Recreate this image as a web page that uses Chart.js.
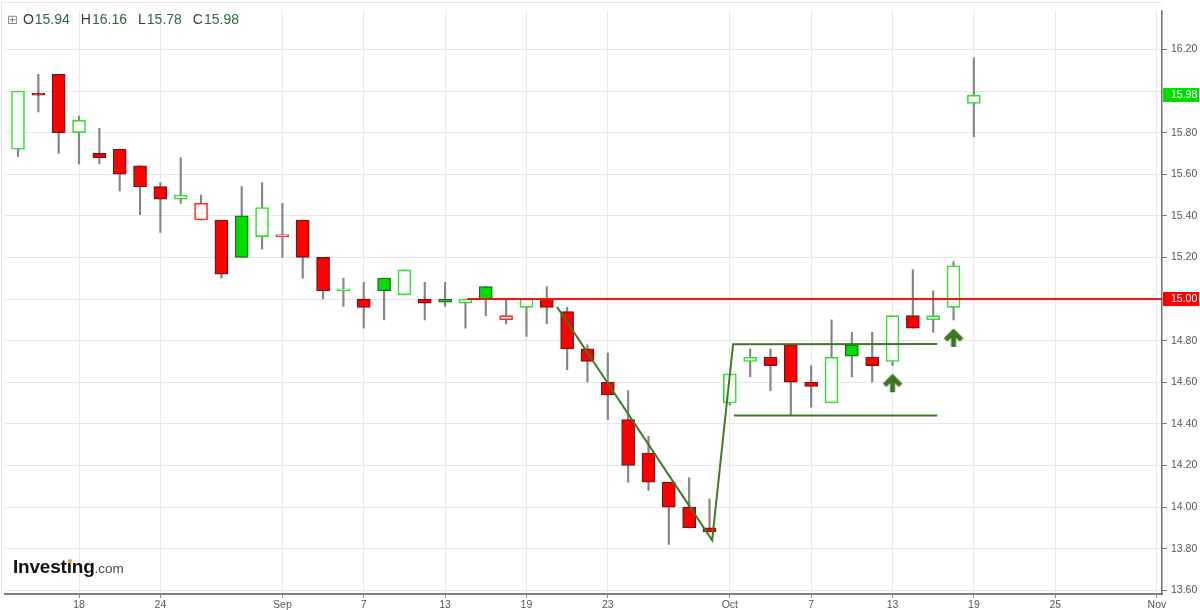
<!DOCTYPE html>
<html>
<head>
<meta charset="utf-8">
<script src="https://cdn.jsdelivr.net/npm/chart.js@4.4.1/dist/chart.umd.min.js"></script>
<style>
  html, body { margin: 0; padding: 0; background: #fff; }
  #wrap { position: relative; width: 1200px; height: 610px; overflow: hidden; }
  #chart { position: absolute; left: 0; top: 0; }
  #edge-left { position: absolute; left: 1px; top: 2px; width: 1px; height: 592px; background: #e2e2e2; }
  #edge-top { position: absolute; left: 1px; top: 2px; width: 1161px; height: 1px; background: #e8e8e8; }
  #ohlc { position: absolute; left: 7px; top: 11px; font-family: "Liberation Sans", Arial, sans-serif; font-size: 14px; color: #3a3a3a; white-space: pre; }
  #ohlc .v { color: #2a6a42; margin-right: 11px; margin-left: 1px; }
  #ohlc .icon { color: #888; font-family: "DejaVu Sans", sans-serif; font-size: 13px; margin-right: 5px; }
  #logo { position: absolute; left: 13px; top: 556px; font-family: "Liberation Sans", Arial, sans-serif; white-space: nowrap; }
  #logo .b { font-weight: bold; font-size: 19px; color: #111; letter-spacing: -0.2px; }
  #logo .c { font-size: 13.5px; color: #444; }
  #logo-dot { position: absolute; left: 68px; top: 559px; width: 4px; height: 4px; border-radius: 50%; background: #f2a11f; }
</style>
</head>
<body>
<div id="wrap">
  <canvas id="chart" width="1200" height="610"></canvas>
  <div id="edge-left"></div>
  <div id="edge-top"></div>
  <div id="ohlc"></div>
  <div id="logo"><span class="b">Investing</span><span class="c">.com</span></div>
  <div id="logo-dot"></div>
</div>
<script>
// trading days on the axis (candles stop on Oct 19, axis runs to Nov 1)
const dates = [
  "2016-08-15", "2016-08-16", "2016-08-17", "2016-08-18", "2016-08-19",
  "2016-08-22", "2016-08-23", "2016-08-24", "2016-08-25", "2016-08-26",
  "2016-08-29", "2016-08-30", "2016-08-31", "2016-09-01", "2016-09-02",
  "2016-09-05", "2016-09-06", "2016-09-07", "2016-09-08", "2016-09-09",
  "2016-09-12", "2016-09-13", "2016-09-14", "2016-09-15", "2016-09-16",
  "2016-09-19", "2016-09-20", "2016-09-21", "2016-09-22", "2016-09-23",
  "2016-09-26", "2016-09-27", "2016-09-28", "2016-09-29", "2016-09-30",
  "2016-10-03", "2016-10-04", "2016-10-05", "2016-10-06", "2016-10-07",
  "2016-10-10", "2016-10-11", "2016-10-12", "2016-10-13", "2016-10-14",
  "2016-10-17", "2016-10-18", "2016-10-19", "2016-10-20", "2016-10-21",
  "2016-10-24", "2016-10-25", "2016-10-26", "2016-10-27", "2016-10-28",
  "2016-10-31", "2016-11-01",
];

const opens = [
  15.72, 15.985, 16.08, 15.80, 15.70, 15.72, 15.64, 15.54, 15.48, 15.38,
  15.38, 15.40, 15.30, 15.30, 15.38, 15.20, 15.04, 15.00, 15.10, 15.02,
  15.00, 15.00, 14.98, 15.06, 14.90, 14.96, 15.00, 14.94, 14.76, 14.60,
  14.42, 14.26, 14.12, 14.00, 13.90, 14.50, 14.70, 14.72, 14.78, 14.60,
  14.50, 14.78, 14.72, 14.70, 14.92, 14.90, 14.96, 15.94,
];
const highs = [
  16.00, 16.08, 16.08, 15.88, 15.82, 15.72, 15.64, 15.56, 15.68, 15.50,
  15.38, 15.54, 15.56, 15.46, 15.38, 15.20, 15.10, 15.08, 15.10, 15.14,
  15.08, 15.08, 15.00, 15.06, 15.00, 15.00, 15.06, 14.96, 14.78, 14.74,
  14.56, 14.34, 14.12, 14.14, 14.04, 14.64, 14.76, 14.76, 14.78, 14.68,
  14.90, 14.84, 14.84, 14.92, 15.14, 15.04, 15.18, 16.16,
];
const lows = [
  15.685, 15.90, 15.70, 15.65, 15.65, 15.52, 15.405, 15.32, 15.46, 15.38,
  15.10, 15.20, 15.24, 15.20, 15.10, 15.00, 14.965, 14.86, 14.90, 15.02,
  14.90, 14.965, 14.86, 14.92, 14.88, 14.82, 14.88, 14.66, 14.60, 14.42,
  14.12, 14.08, 13.82, 13.90, 13.88, 14.49, 14.625, 14.56, 14.44, 14.48,
  14.50, 14.625, 14.60, 14.68, 14.86, 14.84, 14.90, 15.78,
];
const closes = [
  16.00, 15.98, 15.80, 15.86, 15.68, 15.60, 15.54, 15.48, 15.50, 15.46,
  15.12, 15.20, 15.44, 15.30, 15.20, 15.04, 15.04, 14.96, 15.04, 15.14,
  14.98, 14.985, 15.00, 15.00, 14.92, 15.00, 14.96, 14.76, 14.70, 14.54,
  14.20, 14.12, 14.00, 13.90, 13.88, 14.64, 14.72, 14.68, 14.60, 14.58,
  14.72, 14.725, 14.68, 14.92, 14.86, 14.92, 15.16, 15.98,
];

const tickDates = [
  "2016-08-18", "2016-08-24", "2016-09-01", "2016-09-07", "2016-09-13",
  "2016-09-19", "2016-09-23", "2016-10-03", "2016-10-07", "2016-10-13",
  "2016-10-19", "2016-10-25", "2016-11-01",
];
const tickText = ["18", "24", "Sep", "7", "13", "19", "23", "Oct", "7", "13", "19", "25", "Nov"];

// drawn annotations, in (day index, price)
const resistLevel = 15.0;
const resistFrom = 22.1;
const trendX = [26.5, 34.13, 35.16, 45.2];
const trendY = [14.963, 13.84, 14.783, 14.784];
const supportX = [35.2, 45.2];
const supportY = [14.44, 14.44];
const arrowX = [43, 46];
const arrowY = [14.595, 14.813];

const yMin = 13.582;
const yMax = 16.388;
const xMin = -0.64;
const xMax = 56.25;

const UP = "#2ee02e";
const UP_FILL = "#00dd00";
const DOWN = "#ff2a2a";
const DOWN_FILL = "#ff0000";

// header
const last = closes.length - 1;
document.getElementById("ohlc").innerHTML =
  `<span class="icon">⊞</span>O<span class="v">${opens[last].toFixed(2)}</span>` +
  `H<span class="v">${highs[last].toFixed(2)}</span>` +
  `L<span class="v">${lows[last].toFixed(2)}</span>` +
  `C<span class="v">${closes[last].toFixed(2)}</span>`;

// hollow when close >= open, green when close >= previous close
const bodyFill = [];
const bodyBorder = [];
const bodyBorderWidth = [];
closes.forEach((c, i) => {
  const up = i === 0 ? c >= opens[i] : c >= closes[i - 1];
  const hollow = c >= opens[i];
  if (hollow) {
    bodyFill.push("#ffffff");
    bodyBorder.push(up ? UP : DOWN);
    bodyBorderWidth.push(1.6);
  } else {
    bodyFill.push(up ? UP_FILL : DOWN_FILL);
    bodyBorder.push(up ? "#1f5e1f" : "#6e1212");
    bodyBorderWidth.push(1.2);
  }
});

const bodies = closes.map((c, i) => ({ x: i, y: [opens[i], c] }));
const wicks = closes.map((c, i) => ({ x: i, y: [lows[i], highs[i]] }));

function makeArrow() {
  const c = document.createElement("canvas");
  c.width = 20;
  c.height = 20;
  const g = c.getContext("2d");
  g.strokeStyle = "#3a7621";
  g.lineWidth = 5;
  g.lineJoin = "miter";
  g.beginPath();
  g.moveTo(2, 12);
  g.lineTo(10, 4);
  g.lineTo(18, 12);
  g.stroke();
  g.beginPath();
  g.moveTo(10, 6);
  g.lineTo(10, 19);
  g.stroke();
  return c;
}

const badges = [
  { value: closes[last], color: "#00dd00" },
  { value: resistLevel, color: "#ff0000" },
];

const badgePlugin = {
  id: "badges",
  afterDraw(chart) {
    const { ctx, chartArea } = chart;
    const y = chart.scales.y;
    badges.forEach((b) => {
      const py = Math.round(y.getPixelForValue(b.value));
      ctx.save();
      ctx.fillStyle = b.color;
      ctx.fillRect(chartArea.right + 1, py - 7, 36, 14);
      ctx.fillStyle = "#ffffff";
      ctx.font = "10.5px 'Liberation Sans', Arial, sans-serif";
      ctx.textBaseline = "middle";
      ctx.fillText(b.value.toFixed(2), chartArea.right + 9, py + 0.5);
      ctx.restore();
    });
  },
};

const tickIdx = tickDates.map((d) => dates.indexOf(d));

new Chart(document.getElementById("chart"), {
  type: "bar",
  data: {
    datasets: [
      {
        type: "scatter",
        data: arrowX.map((x, i) => ({ x: x, y: arrowY[i] })),
        pointStyle: makeArrow(),
        order: 0,
      },
      {
        type: "line",
        data: trendX.map((x, i) => ({ x: x, y: trendY[i] })),
        borderColor: "#3c7a24",
        borderWidth: 2,
        pointRadius: 0,
        tension: 0,
        order: 1,
      },
      {
        type: "line",
        data: supportX.map((x, i) => ({ x: x, y: supportY[i] })),
        borderColor: "#3c7a24",
        borderWidth: 2,
        pointRadius: 0,
        order: 1,
      },
      {
        type: "line",
        data: [
          { x: resistFrom, y: resistLevel },
          { x: xMax, y: resistLevel },
        ],
        borderColor: "#f01414",
        borderWidth: 2,
        pointRadius: 0,
        order: 2,
      },
      {
        data: bodies,
        backgroundColor: bodyFill,
        borderColor: bodyBorder,
        borderWidth: bodyBorderWidth,
        borderSkipped: false,
        barThickness: 13,
        minBarLength: 2,
        grouped: false,
        order: 3,
      },
      {
        data: wicks,
        backgroundColor: "#858585",
        barThickness: 1.5,
        grouped: false,
        order: 4,
      },
    ],
  },
  options: {
    responsive: false,
    animation: false,
    layout: { padding: { left: 1, top: 2, right: 0, bottom: 0 } },
    plugins: { legend: { display: false }, tooltip: { enabled: false } },
    scales: {
      x: {
        type: "linear",
        min: xMin,
        max: xMax,
        offset: false,
        afterBuildTicks: (scale) => {
          scale.ticks = tickIdx.map((v) => ({ value: v }));
        },
        afterFit: (scale) => {
          scale.height = 16;
        },
        ticks: {
          autoSkip: false,
          maxRotation: 0,
          padding: 1,
          color: "#555",
          font: { family: "'Liberation Sans', Arial, sans-serif", size: 10.5 },
          callback: (v) => tickText[tickIdx.indexOf(v)],
        },
        grid: { offset: false, color: "#e8e8e8", tickColor: "#888", tickLength: 4 },
        border: { color: "#808080", width: 2 },
      },
      y: {
        position: "right",
        min: yMin,
        max: yMax,
        afterFit: (scale) => {
          scale.width = 38;
        },
        ticks: {
          stepSize: 0.2,
          includeBounds: false,
          padding: 4,
          color: "#555",
          font: { family: "'Liberation Sans', Arial, sans-serif", size: 10.5 },
          // labels under a badge are hidden by it
          callback: (v) => (badges.some((b) => Math.abs(b.value - v) < 0.05) ? "" : v.toFixed(2)),
        },
        grid: { color: "#e8e8e8", tickColor: "#777", tickLength: 5 },
        border: { color: "#6f6f6f", width: 1.5 },
      },
    },
  },
  plugins: [badgePlugin],
});
</script>
</body>
</html>
